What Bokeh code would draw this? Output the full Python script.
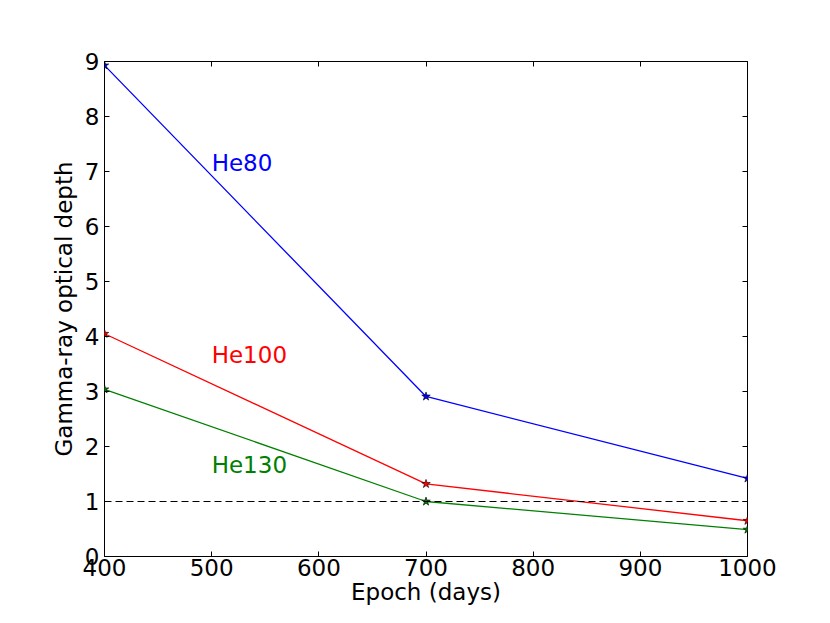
from bokeh.plotting import figure
from bokeh.models import LinearAxis, FixedTicker, Range1d, Span
from bokeh.embed import file_html
from bokeh.resources import INLINE
from bokeh.core.properties import value

epochs = [400, 700, 1000]
he80 = [8.93, 2.91, 1.42]
he100 = [4.05, 1.32, 0.65]
he130 = [3.04, 1.00, 0.49]
series_names = ["He80", "He100", "He130"]
series_colors = ["blue", "red", "green"]
label_x = [500, 500, 500]
label_y = [7.0, 3.5, 1.5]
x_ticks = [400, 500, 600, 700, 800, 900, 1000]
y_ticks = [0, 1, 2, 3, 4, 5, 6, 7, 8, 9]
threshold = 1.0
x_title = "Epoch (days)"
y_title = "Gamma-ray optical depth"

FONT = "DejaVu Sans"
FS = "23px"

p = figure(width=814, height=607, output_backend="svg", toolbar_location=None,
           x_range=Range1d(400, 1000), y_range=Range1d(0, 9),
           min_border_left=104, min_border_right=67, min_border_top=61, min_border_bottom=45,
           x_axis_label=x_title, y_axis_label=y_title)
p.background_fill_color = "white"
p.border_fill_color = "white"
p.outline_line_color = "black"
p.outline_line_width = 1
p.grid.visible = False

def style_axis(ax, labels=True):
    ax.major_tick_in = 5
    ax.major_tick_out = 0
    ax.minor_tick_line_color = None
    ax.axis_line_color = None
    ax.major_tick_line_color = "black"
    ax.major_label_text_font = FONT
    ax.major_label_text_font_size = FS
    ax.major_label_text_color = "black"
    ax.axis_label_text_font = FONT
    ax.axis_label_text_font_size = FS
    ax.axis_label_text_font_style = "normal"
    ax.axis_label_text_color = "black"
    if not labels:
        ax.major_label_text_font_size = "0px"
        ax.major_label_text_color = None

p.xaxis.ticker = FixedTicker(ticks=x_ticks)
p.yaxis.ticker = FixedTicker(ticks=y_ticks)
for ax in p.xaxis + p.yaxis:
    style_axis(ax)
p.xaxis.major_label_standoff = 2
p.yaxis.major_label_standoff = 5
p.xaxis.axis_label_standoff = 0
p.yaxis.axis_label_standoff = 5

top = LinearAxis(ticker=FixedTicker(ticks=x_ticks))
right = LinearAxis(ticker=FixedTicker(ticks=y_ticks))
style_axis(top, labels=False)
style_axis(right, labels=False)
top.major_label_standoff = 0
right.major_label_standoff = 0
p.add_layout(top, "above")
p.add_layout(right, "right")

p.add_layout(Span(location=threshold, dimension="width", line_color="black",
                  line_dash="7 4", line_width=1.2))

for vals, name, col, lx, ly in zip([he80, he100, he130], series_names, series_colors, label_x, label_y):
    p.line(epochs, vals, line_color=col, line_width=1.3)
    p.scatter(epochs, vals, marker="star", size=9, fill_color=col, line_color="black", line_width=0.6)
    p.text(x=[lx], y=[ly], text=[name], text_color=col, text_font=value(FONT),
           text_font_size=FS, text_baseline="bottom", text_align="left", y_offset=4)

open("out.html", "w").write(file_html(p, INLINE))
